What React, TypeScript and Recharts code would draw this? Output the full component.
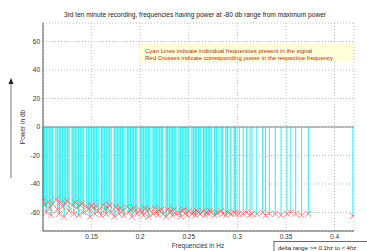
import React from "react";
import {
  CartesianGrid,
  ComposedChart,
  ReferenceLine,
  Scatter,
  XAxis,
  YAxis,
} from "recharts";

const FONT = "'Liberation Sans', Arial, sans-serif";

const freqs = [
  0.1, 0.1017, 0.1033, 0.105, 0.1067, 0.1083, 0.11, 0.1133, 0.115, 0.1167,
  0.1183, 0.12, 0.1217, 0.1233, 0.125, 0.1267, 0.13, 0.1317, 0.1333, 0.135,
  0.1367, 0.1383, 0.14, 0.1417, 0.145, 0.1467, 0.1483, 0.15, 0.1517, 0.1533,
  0.155, 0.1567, 0.16, 0.1617, 0.1633, 0.165, 0.1667, 0.1683, 0.17, 0.1733,
  0.175, 0.1767, 0.1783, 0.18, 0.1817, 0.1833, 0.1867, 0.1883, 0.19, 0.1917,
  0.1933, 0.195, 0.1967, 0.2, 0.2017, 0.2033, 0.205, 0.2067, 0.2083, 0.21,
  0.2133, 0.215, 0.2167, 0.2183, 0.22, 0.2217, 0.2233, 0.2267, 0.2283, 0.23,
  0.2317, 0.2333, 0.235, 0.2367, 0.24, 0.2417, 0.2433, 0.245, 0.2467, 0.2483,
  0.25, 0.2533, 0.255, 0.2567, 0.2583, 0.26, 0.2617, 0.265, 0.2667, 0.2683,
  0.27, 0.2717, 0.2733, 0.2767, 0.2783, 0.28, 0.2833, 0.285, 0.2883, 0.29,
  0.2933, 0.2967, 0.2983,
  0.302, 0.306, 0.3095, 0.313, 0.315, 0.32, 0.326, 0.329, 0.333, 0.339, 0.345,
  0.351, 0.355, 0.36, 0.366, 0.373, 0.4188,
];

const powers = [
  -52, -55, -60, -53, -57, -62, -54, -51, -58, -61, -53, -56, -63, -54, -52,
  -59, -55, -61, -53, -57, -62, -55, -54, -60, -56, -58, -63, -55, -57, -61,
  -56, -59, -62, -55, -58, -61, -57, -55, -60, -63, -56, -58, -61, -57, -59,
  -62, -56, -60, -58, -63, -57, -59, -61,
  -58, -60, -62, -57, -59, -63, -58, -61, -57, -60, -62, -59, -58, -61, -63,
  -58, -60, -59, -62, -58, -61, -60, -63, -59, -58, -61, -62,
  -59, -61, -60, -62, -59, -60, -61, -59, -62, -60, -61, -59, -60, -62, -61,
  -60, -59, -61, -62, -60, -61, -60, -61,
  -61, -61, -60, -62, -61, -61, -60, -62, -61, -61, -62, -61, -60, -61, -62,
  -61, -62.5,
];

const xTicks = [0.15, 0.2, 0.25, 0.3, 0.35, 0.4];
const yTicks = [-60, -40, -20, 0, 20, 40, 60];

const points = freqs.map((f, i) => ({ f, p: powers[i] }));

function XMark(props: any) {
  const { cx, cy } = props;
  if (cx == null || cy == null) return null;
  const r = 3;
  return (
    <g stroke="#ff5050" strokeWidth={0.8} strokeOpacity={0.85}>
      <line x1={cx - r} y1={cy - r} x2={cx + r} y2={cy + r} />
      <line x1={cx - r} y1={cy + r} x2={cx + r} y2={cy - r} />
    </g>
  );
}

export default function App() {
  const tick = { fontSize: 6.5, fill: "#333", fontFamily: FONT };
  return (
    <div style={{ position: "fixed", left: 0, top: 0, width: 367, height: 251, background: "#fff" }}>
      <ComposedChart
        width={367}
        height={251}
        data={points}
        margin={{ top: 23, right: 13, bottom: 0, left: 0 }}
      >
        <CartesianGrid stroke="#b0b0b0" strokeDasharray="1 2" strokeWidth={0.8} />
        <XAxis
          type="number"
          dataKey="f"
          domain={[0.1, 0.42]}
          ticks={xTicks}
          allowDataOverflow
          height={20}
          tickSize={0}
          tickMargin={3}
          tickLine={false}
          axisLine={{ stroke: "#555" }}
          tick={tick}
        />
        <YAxis
          type="number"
          dataKey="p"
          domain={[-73, 73]}
          ticks={yTicks}
          allowDataOverflow
          width={43}
          tickSize={0}
          tickMargin={3}
          tickLine={false}
          axisLine={{ stroke: "#555" }}
          tick={tick}
        />
        {points.map((d) => (
          <ReferenceLine
            key={d.f}
            segment={[
              { x: d.f, y: 0 },
              { x: d.f, y: d.p },
            ]}
            stroke="#3ef0f0"
            strokeWidth={d.f < 0.3 ? 1.4 : 1.1}
          />
        ))}
        <ReferenceLine y={0} stroke="#808080" strokeWidth={1} />
        <Scatter dataKey="p" shape={XMark} isAnimationActive={false} />
      </ComposedChart>
      <svg
        width={367}
        height={251}
        style={{ position: "absolute", left: 0, top: 0, pointerEvents: "none" }}
        fontFamily={FONT}
      >
        <text x={195} y={17} fontSize={6.6} fill="#222" textAnchor="middle">
          3rd ten minute recording, frequencies having power at -80 db range from maximum power
        </text>
        <rect x={140} y={44} width={213} height={18} fill="#ffffd8" />
        <text x={145} y={53} fontSize={6} fill="#b03020">
          Cyan Lines indicate individual frequencies present in the signal
        </text>
        <text x={145} y={60} fontSize={6} fill="#b03020">
          Red Crosses indicate corresponding power in the respective frequency
        </text>
        <text
          x={25}
          y={127}
          fontSize={6.5}
          fill="#333"
          textAnchor="middle"
          transform="rotate(-90 25 127)"
        >
          Power in db
        </text>
        <line x1={11} y1={178} x2={11} y2={84} stroke="#777" strokeWidth={1} />
        <path d="M 8.5 84 L 13.5 84 L 11 78 Z" fill="#222" />
        <text x={198} y={248} fontSize={6.5} fill="#333" textAnchor="middle">
          Frequencies in Hz
        </text>
        <rect x={274} y={241.5} width={100} height={14} fill="#fff" stroke="#444" strokeWidth={0.8} />
        <text x={278} y={250} fontSize={6} fill="#222">
          delta range {">="} 0.1hz to {"<"} 4hz
        </text>
      </svg>
    </div>
  );
}
